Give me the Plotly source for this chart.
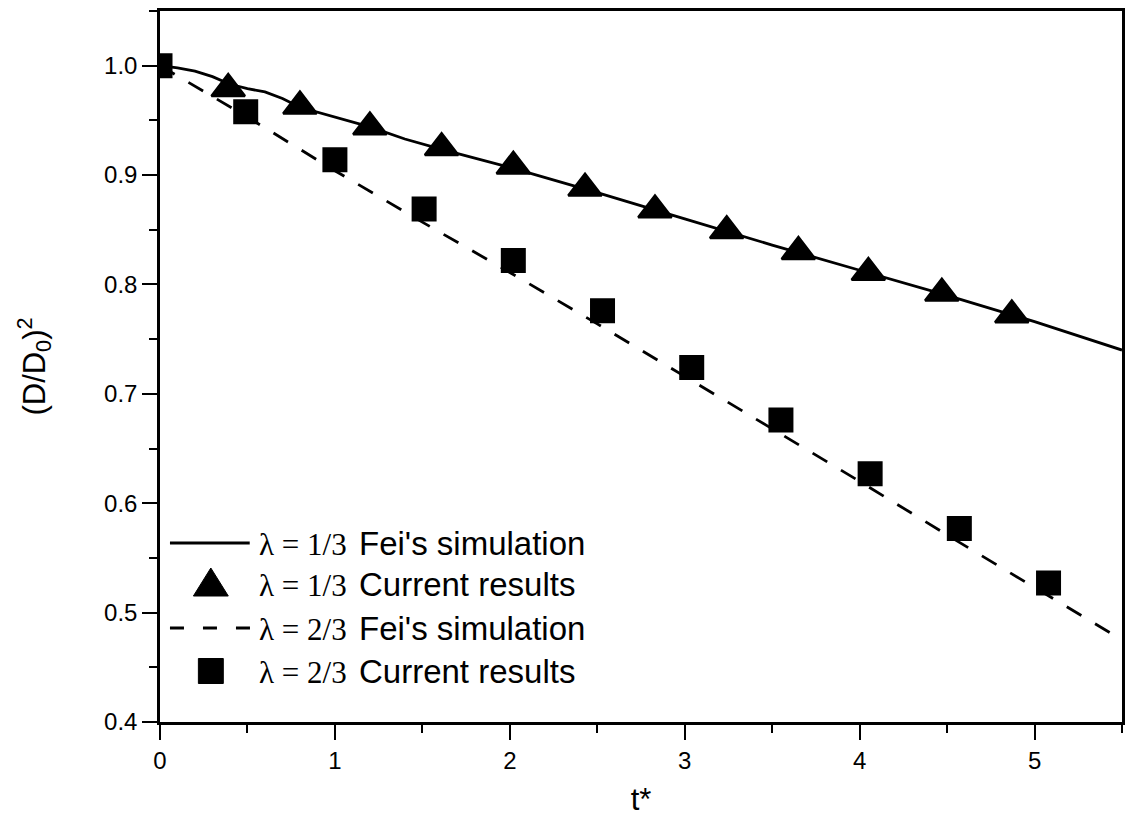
import plotly.graph_objects as go

# ---- data ----
fei13_t = [0, 0.1, 0.2, 0.3, 0.4, 0.5, 0.6, 0.7, 0.8, 1.0, 1.2, 1.4, 1.6, 2.0, 2.5, 3.0, 3.5, 4.0, 4.5, 5.0, 5.5]
fei13_v = [1.0, 0.998, 0.995, 0.990, 0.983, 0.979, 0.976, 0.970, 0.962, 0.953, 0.944, 0.933, 0.924, 0.907, 0.884, 0.860, 0.836, 0.813, 0.790, 0.766, 0.740]

cur13_t = [0.39, 0.80, 1.20, 1.61, 2.02, 2.43, 2.83, 3.24, 3.65, 4.05, 4.47, 4.87]
cur13_v = [0.979, 0.963, 0.944, 0.925, 0.908, 0.888, 0.868, 0.849, 0.830, 0.811, 0.792, 0.772]

fei23_t = [0, 0.5, 1.0, 1.5, 2.0, 2.5, 3.0, 3.5, 4.0, 4.5, 5.0, 5.5]
fei23_v = [1.0, 0.953, 0.904, 0.857, 0.811, 0.764, 0.716, 0.668, 0.620, 0.571, 0.523, 0.475]

cur23_t = [0.0, 0.49, 1.0, 1.51, 2.02, 2.53, 3.04, 3.55, 4.06, 4.57, 5.08]
cur23_v = [1.0, 0.958, 0.914, 0.869, 0.822, 0.776, 0.724, 0.676, 0.627, 0.577, 0.527]

x_ticks = [0, 1, 2, 3, 4, 5]
y_ticks = [0.4, 0.5, 0.6, 0.7, 0.8, 0.9, 1.0]

legend_lambda = ["λ = 1/3", "λ = 1/3", "λ = 2/3", "λ = 2/3"]
legend_text = ["Fei's simulation", "Current results", "Fei's simulation", "Current results"]

W, H = 1126, 825
ML, MR, MT, MB = 160, 1, 11, 103
PW, PH = W - ML - MR, H - MT - MB

def px(x):
    return (x - ML) / PW

def py(y):
    return (H - MB - y) / PH

fig = go.Figure()
fig.add_trace(go.Scatter(x=fei13_t, y=fei13_v, mode="lines",
                         line=dict(color="black", width=2.8), showlegend=False))
fig.add_trace(go.Scatter(x=fei23_t, y=fei23_v, mode="lines",
                         line=dict(color="black", width=2.8, dash="17px,16px"), showlegend=False))
fig.add_trace(go.Scatter(x=cur13_t, y=cur13_v, mode="markers",
                         marker=dict(symbol="triangle-up", size=29, color="black",
                                     line=dict(color="black", width=2.5)), showlegend=False))
fig.add_trace(go.Scatter(x=cur23_t, y=cur23_v, mode="markers",
                         marker=dict(symbol="square", size=23, color="black",
                                     line=dict(color="black", width=2)), showlegend=False))

# ---- manual legend ----
rows_y = [543, 584, 628, 671]
shapes = []
shapes.append(dict(type="line", xref="paper", yref="paper",
                   x0=px(170), x1=px(250), y0=py(rows_y[0]), y1=py(rows_y[0]),
                   line=dict(color="black", width=2.8)))
shapes.append(dict(type="line", xref="paper", yref="paper",
                   x0=px(170), x1=px(251), y0=py(rows_y[2]), y1=py(rows_y[2]),
                   line=dict(color="black", width=2.8, dash="14px,19px")))
cx, cy = 211, rows_y[1]
tri = "M {} {} L {} {} L {} {} Z".format(px(cx - 17.5), py(cy + 12), px(cx + 17.5), py(cy + 12),
                                         px(cx), py(cy - 16))
shapes.append(dict(type="path", xref="paper", yref="paper", path=tri,
                   fillcolor="black", line=dict(color="black", width=1)))
cx, cy = 211, rows_y[3]
shapes.append(dict(type="rect", xref="paper", yref="paper",
                   x0=px(cx - 12.5), x1=px(cx + 12.5), y0=py(cy + 12.5), y1=py(cy - 12.5),
                   fillcolor="black", line=dict(color="black", width=1)))

annotations = []
for lam, txt, ry in zip(legend_lambda, legend_text, rows_y):
    annotations.append(dict(
        xref="paper", yref="paper", x=px(257), y=py(ry + 1), xanchor="left", yanchor="middle",
        showarrow=False, text=lam,
        font=dict(family="Liberation Serif, Times New Roman", size=31, color="black")))
    annotations.append(dict(
        xref="paper", yref="paper", x=px(358), y=py(ry), xanchor="left", yanchor="middle",
        showarrow=False, text=txt,
        font=dict(family="Liberation Sans, Arial", size=33, color="black")))

fig.update_layout(
    width=W, height=H,
    margin=dict(l=ML, r=MR, t=MT, b=MB),
    paper_bgcolor="white", plot_bgcolor="white",
    shapes=shapes, annotations=annotations,
    font=dict(family="Liberation Sans, Arial", color="black"),
    xaxis=dict(range=[0, 5.5], tickvals=x_ticks, ticks="outside", ticklen=15, tickwidth=2,
               tickcolor="black", showline=True, linewidth=2.5, linecolor="black", mirror=True,
               showgrid=False, zeroline=False, tickfont=dict(size=24),
               minor=dict(dtick=0.5, ticks="outside", ticklen=8, tickwidth=2, tickcolor="black"),
               title=dict(text="t*", font=dict(size=31), standoff=16)),
    yaxis=dict(range=[0.4, 1.05], tickvals=y_ticks, tickformat=".1f", ticks="outside", ticklen=15,
               tickwidth=2, tickcolor="black", showline=True, linewidth=2.5, linecolor="black",
               mirror=True, showgrid=False, zeroline=False, tickfont=dict(size=24),
               minor=dict(dtick=0.05, ticks="outside", ticklen=8, tickwidth=2, tickcolor="black"),
               title=dict(text="(D/D<sub>0</sub>)<sup>2</sup>", font=dict(size=31), standoff=50)),
)

fig.write_html("out.html")
